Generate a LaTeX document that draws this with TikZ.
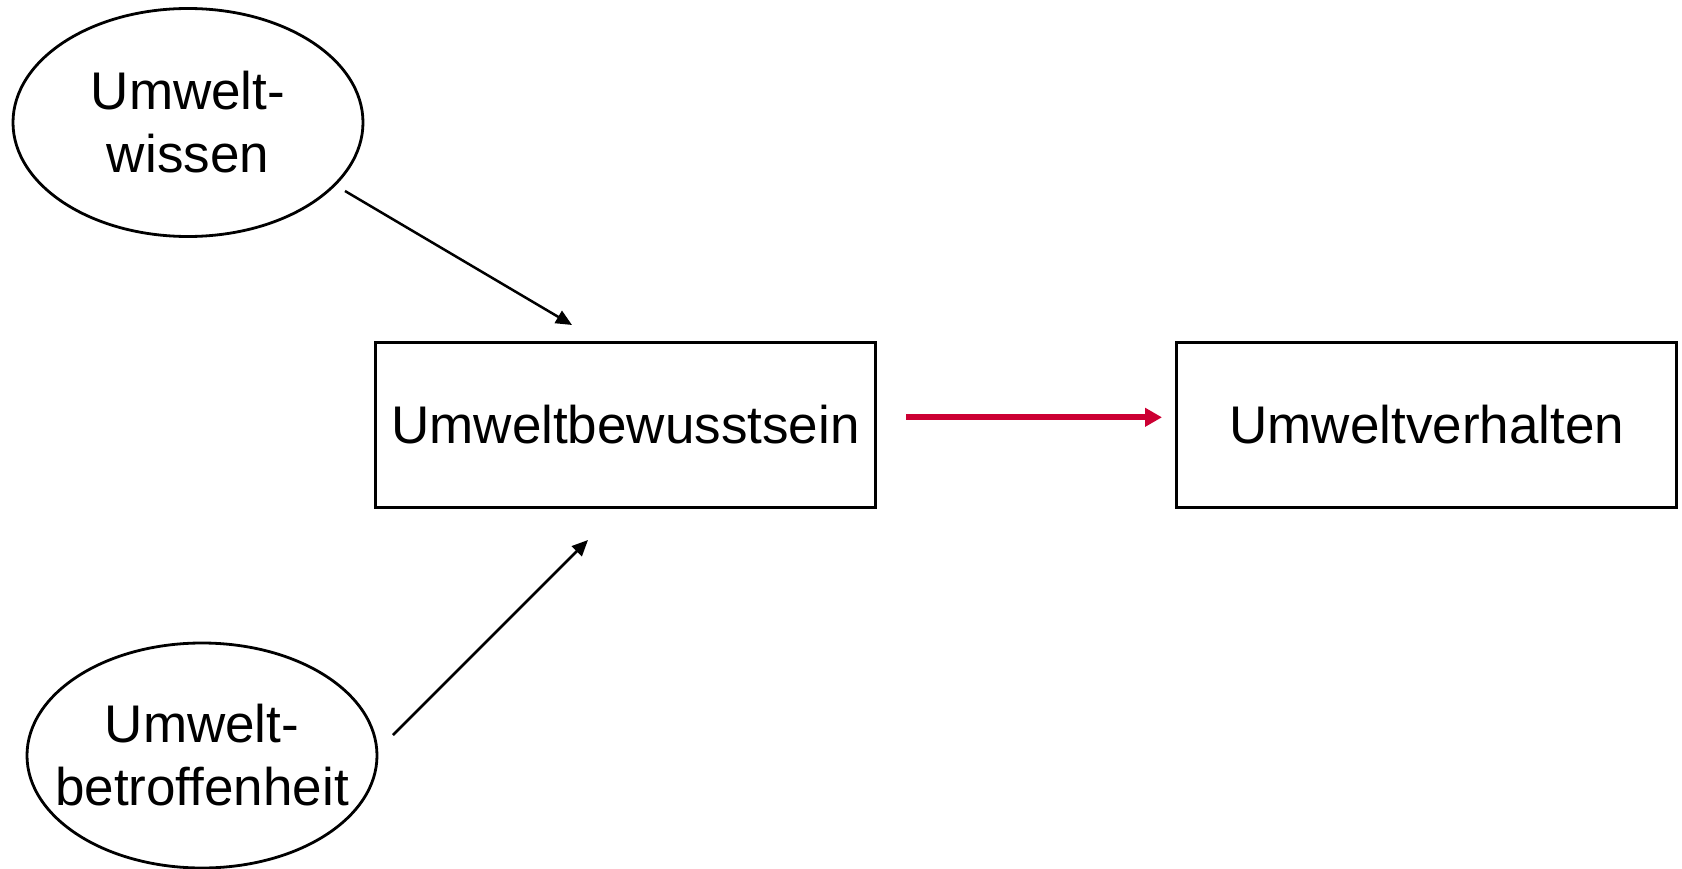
\documentclass[tikz,border=0pt]{standalone}
\usepackage{fontspec}
\setmainfont{Liberation Sans}
\usetikzlibrary{shapes.geometric,arrows.meta}
\definecolor{arrred}{RGB}{204,0,51}
\tikzset{
  oval/.style={ellipse, draw=black, line width=2.8pt, inner sep=0pt},
  ovaltext/.style={align=center, font=\fontsize{53}{63}\selectfont, inner sep=0pt},
  boxnode/.style={rectangle, draw=black, line width=3.2pt, inner sep=0pt,
    minimum width=500pt, minimum height=165pt, font=\fontsize{53}{63}\selectfont},
  blkarrow/.style={draw=black, line width=2.5pt, -{Triangle[length=16pt,width=14pt]}},
  redarrow/.style={draw=arrred, line width=6pt, -{Triangle[length=17pt,width=18pt]}}
}
\begin{document}
\begin{tikzpicture}[x=1pt,y=-1pt]
\useasboundingbox (0,0) rectangle (1682,869);
\node[oval, minimum width=350pt, minimum height=228pt,
  label={[ovaltext]center:Umwelt-\\wissen}] (wissen) at (188,122.5) {};
\node[oval, minimum width=350pt, minimum height=225pt,
  label={[ovaltext]center:Umwelt-\\betroffenheit}] (betr) at (202,755.5) {};
\node[boxnode] (bew) at (625.5,424.7) {Umweltbewusstsein};
\node[boxnode] (verh) at (1426.8,424.7) {Umweltverhalten};
\coordinate (w1) at (345,191);
\coordinate (w2) at (572,325);
\coordinate (b1) at (393,735);
\coordinate (b2) at (588,540);
\coordinate (r1) at (906,417.3);
\coordinate (r2) at (1162,417.3);
\draw[blkarrow] (w1) -- (w2);
\draw[blkarrow] (b1) -- (b2);
\draw[redarrow] (r1) -- (r2);
\end{tikzpicture}
\end{document}
